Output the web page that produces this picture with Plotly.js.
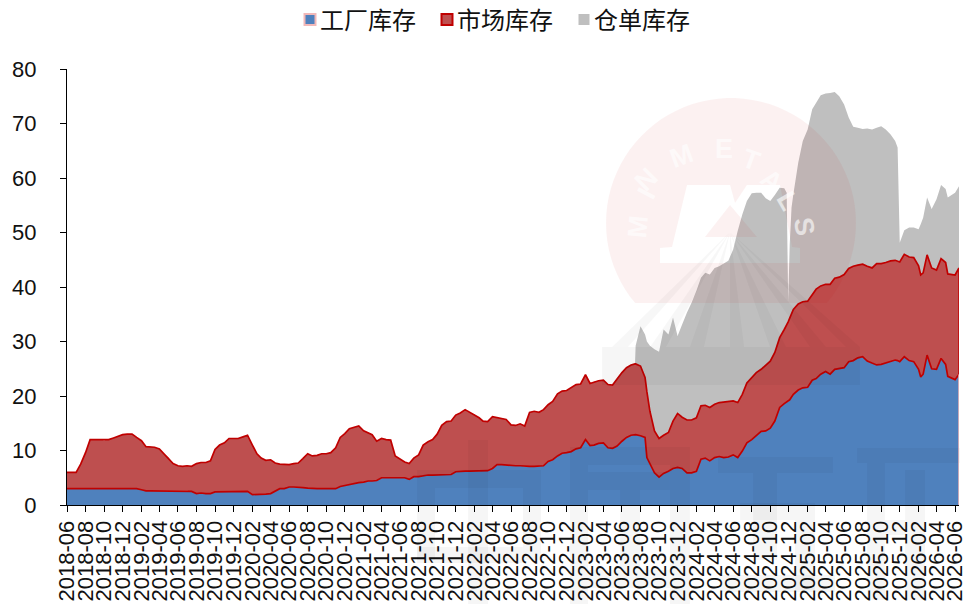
<!DOCTYPE html>
<html><head><meta charset="utf-8">
<script src="https://cdn.plot.ly/plotly-3.0.1.min.js"></script>
<style>html,body{margin:0;padding:0;background:#fff}#chart{width:966px;height:604px}</style>
</head><body><div id="chart"></div>
<script>
const dates = [
 "2018-06-01","2018-06-16","2018-07-01","2018-07-16","2018-08-01","2018-08-16","2018-09-01","2018-09-16","2018-10-01","2018-10-16","2018-11-01","2018-11-16","2018-12-01","2018-12-16",
 "2019-01-01","2019-01-16","2019-02-01","2019-02-16","2019-03-01","2019-03-16","2019-04-01","2019-04-16","2019-05-01","2019-05-16","2019-06-01","2019-06-16","2019-07-01","2019-07-16","2019-08-01","2019-08-16","2019-09-01","2019-09-16","2019-10-01","2019-10-16","2019-11-01","2019-11-16","2019-12-01","2019-12-16",
 "2020-01-01","2020-01-16","2020-02-01","2020-02-16","2020-03-01","2020-03-16","2020-04-01","2020-04-16","2020-05-01","2020-05-16","2020-06-01","2020-06-16","2020-07-01","2020-07-16","2020-08-01","2020-08-16","2020-09-01","2020-09-16","2020-10-01","2020-10-16","2020-11-01","2020-11-16","2020-12-01","2020-12-16",
 "2021-01-01","2021-01-16","2021-02-01","2021-02-16","2021-03-01","2021-03-16","2021-04-01","2021-04-16","2021-05-01","2021-05-16","2021-06-01","2021-06-16","2021-07-01","2021-07-16","2021-08-01","2021-08-16","2021-09-01","2021-09-16","2021-10-01","2021-10-16","2021-11-01","2021-11-16","2021-12-01","2021-12-16",
 "2022-01-01","2022-01-16","2022-02-01","2022-02-16","2022-03-01","2022-03-16","2022-04-01","2022-04-16","2022-05-01","2022-05-16","2022-06-01","2022-06-16","2022-07-01","2022-07-16","2022-08-01","2022-08-16","2022-09-01","2022-09-16","2022-10-01","2022-10-16","2022-11-01","2022-11-16","2022-12-01","2022-12-16",
 "2023-01-01","2023-01-16","2023-02-01","2023-02-16","2023-03-01","2023-03-16","2023-04-01","2023-04-16","2023-05-01","2023-05-16","2023-06-01","2023-06-16","2023-07-01","2023-07-14","2023-07-16","2023-08-01","2023-08-16","2023-08-22","2023-09-01","2023-09-16","2023-10-01","2023-10-16","2023-11-01","2023-11-16","2023-12-01","2023-12-16",
 "2024-01-01","2024-01-16","2024-02-01","2024-02-16","2024-03-01","2024-03-16","2024-04-01","2024-04-16","2024-05-01","2024-05-16","2024-06-01","2024-06-16","2024-07-01","2024-07-16","2024-08-01","2024-08-16","2024-09-01","2024-09-16","2024-10-01","2024-10-16","2024-11-01","2024-11-16","2024-11-24","2024-11-29","2024-12-04","2024-12-10","2024-12-16",
 "2025-01-01","2025-01-16","2025-02-01","2025-02-16","2025-03-01","2025-03-16","2025-04-01","2025-04-16","2025-05-01","2025-05-16","2025-06-01","2025-06-16","2025-07-01","2025-07-16","2025-08-01","2025-08-16","2025-09-01","2025-09-16","2025-10-01","2025-10-16","2025-11-01","2025-11-16","2025-11-24","2025-12-01","2025-12-16",
 "2026-01-01","2026-01-16","2026-02-01","2026-02-08","2026-02-16","2026-03-01","2026-03-16","2026-04-01","2026-04-16","2026-05-01","2026-05-08","2026-06-01","2026-06-14"];

const factoryStock = [
 3.0,3.0,3.0,3.0,3.0,3.0,3.0,3.0,3.0,3.0,3.0,3.0,3.0,3.0,
 3.0,3.0,2.8,2.6,2.6,2.6,2.6,2.6,2.6,2.6,2.6,2.6,2.6,2.5,2.1,2.2,2.1,2.1,2.4,2.4,2.4,2.4,2.4,2.4,
 2.4,2.5,1.9,1.9,2.0,2.0,2.1,2.6,3.0,3.0,3.3,3.3,3.3,3.2,3.1,3.0,3.0,3.0,3.0,3.0,3.0,3.4,3.6,3.7,
 4.0,4.1,4.2,4.4,4.4,4.5,5.0,5.0,5.0,5.0,5.0,5.0,4.7,5.2,5.2,5.4,5.5,5.5,5.5,5.5,5.6,5.6,6.1,6.2,
 6.2,6.2,6.2,6.2,6.3,6.3,6.7,7.4,7.4,7.3,7.3,7.2,7.2,7.1,7.1,7.1,7.1,7.2,8.0,8.3,9.0,9.5,9.6,9.8,
 10.3,10.5,12.0,10.9,11.0,11.3,11.4,10.5,10.4,10.8,11.7,12.4,12.8,12.9,12.9,12.7,12.4,8.7,7.5,5.9,5.1,5.8,6.2,6.7,6.9,6.7,
 5.9,5.9,6.2,8.4,8.6,8.1,8.7,8.9,8.7,8.8,9.2,8.7,9.9,11.4,12.0,12.7,13.5,13.6,14.1,15.4,17.9,18.6,18.9,19.0,19.3,19.8,20.3,
 21.1,21.5,21.6,22.9,23.2,24.0,24.5,24.0,24.9,25.1,25.2,26.3,26.5,27.0,27.2,26.4,26.1,25.7,25.8,26.1,26.3,26.6,26.5,26.3,27.2,
 26.5,26.3,24.9,23.5,24.0,27.5,25.0,24.9,26.9,25.8,23.6,23.0,24.0];

const marketStock = [
 3.0,3.0,3.0,4.5,6.6,9.0,9.0,9.0,8.9,9.0,9.3,9.6,9.9,10.0,
 10.0,9.4,9.0,8.1,8.1,8.0,7.7,6.8,6.1,5.0,4.6,4.5,4.6,4.6,5.5,5.6,5.7,6.0,7.8,8.6,9.0,9.8,9.8,9.8,
 10.1,10.3,9.1,7.5,6.6,6.2,6.2,5.1,4.5,4.4,4.1,4.3,4.4,5.3,6.3,6.0,6.1,6.4,6.4,6.6,7.5,9.0,9.5,10.3,
 10.2,10.4,9.4,8.9,8.5,7.2,7.2,7.0,6.9,4.0,3.5,2.9,2.9,3.4,4.0,5.6,6.1,6.5,7.5,9.1,9.7,9.8,10.4,10.7,
 11.3,10.8,10.4,9.8,9.1,9.0,9.5,8.6,8.5,8.4,7.4,7.4,7.7,7.4,9.9,10.1,9.9,10.3,10.4,10.7,11.4,11.4,11.4,11.7,
 11.8,11.7,11.9,11.4,11.6,11.5,11.5,11.6,11.6,12.4,12.6,12.8,12.9,13.0,13.0,12.8,11.0,12.1,9.7,7.7,7.1,7.0,7.1,8.7,9.9,9.4,
 9.7,9.7,9.8,9.8,9.7,9.8,9.8,9.9,10.2,10.2,9.9,10.1,10.4,11.0,11.4,11.6,11.4,12.1,12.3,12.6,12.8,13.6,14.1,14.6,15.0,15.2,15.6,
 15.8,15.8,15.8,15.8,16.4,16.2,16.0,16.5,16.7,16.7,17.1,17.1,17.3,17.0,17.0,17.4,17.4,18.6,18.5,18.4,18.5,18.3,18.2,18.3,18.8,
 19.0,19.1,19.0,18.7,18.6,18.4,18.5,18.2,18.3,18.7,18.8,19.2,19.5];

const warehouseStock = [
 0,0,0,0,0,0,0,0,0,0,0,0,0,0,
 0,0,0,0,0,0,0,0,0,0,0,0,0,0,0,0,0,0,0,0,0,0,0,0,
 0,0,0,0,0,0,0,0,0,0,0,0,0,0,0,0,0,0,0,0,0,0,0,0,
 0,0,0,0,0,0,0,0,0,0,0,0,0,0,0,0,0,0,0,0,0,0,0,0,
 0,0,0,0,0,0,0,0,0,0,0,0,0,0,0,0,0,0,0,0,0,0,0,0,
 0,0,0,0,0,0,0,0,0,0,0,0,0,0,3.3,7.3,7.9,9.2,12.0,15.0,15.9,19.4,18.0,19.0,14.2,17.0,
 19.7,21.5,23.3,23.5,24.3,24.4,25.0,25.0,25.4,25.8,27.8,31.5,33.0,33.4,33.8,33.0,32.4,30.6,29.4,28.9,27.5,25.9,24.3,3.8,13.5,19.6,21.1,
 25.9,29.5,31.5,33.9,34.2,35.0,35.0,35.1,34.2,33.2,31.2,27.7,25.6,25.2,24.8,25.3,25.4,24.9,25.2,24.4,23.2,21.9,20.9,3.5,4.4,
 5.4,5.5,6.7,9.3,10.1,10.5,10.8,13.0,13.5,13.5,14.0,15.1,15.0];

const seriesNames = ["工厂库存","市场库存","仓单库存"];
const yTicks = [0,10,20,30,40,50,60,70,80];
const watermarkLetters = ["M","I","N","M","E","T","A","L","S"];

const C = {blue:"#4F81BD", red:"#BE4F4F", dark:"#C00000", grey:"#BFBFBF", pink:"#F2B8B8", ink:"#111111"};
const PL=67, PR=959, PT=69, PB=505;
const fx=x=>(x-PL)/(PR-PL), fy=y=>(PB-y)/(PB-PT);
const poly=pts=>"M"+pts.map(p=>fx(p[0]).toFixed(4)+","+fy(p[1]).toFixed(4)).join("L")+"Z";
const wmShape=(path,color,op)=>({type:"path",xref:"paper",yref:"paper",layer:"above",path,fillcolor:color,opacity:op,line:{width:0},fillrule:"evenodd"});
const wmRect=(x0,y0,x1,y1)=>wmShape(poly([[x0,y0],[x1,y0],[x1,y1],[x0,y1]]),"#000000",0.035);

// watermark: emblem circle with the M block cut out of it
const circ=[];
for(let a=0;a<360;a+=4){const px=731+125*Math.cos(a*Math.PI/180),py=223+125*Math.sin(a*Math.PI/180);
  circ.push([px,Math.min(py,303)]);}
const logo=[[660,263],[660,248],[672,247],[687,185],[730,185],[735,203],[747,185],[780,185],[792,247],[800,248],[800,263]];
const hole=[[705,237],[730,205],[757,237]];
const emblem=poly(circ)+poly(logo)+poly(hole);
const shapes=[wmShape(emblem,"#C00000",0.055)];
// fan of rays beneath the emblem
const fanX=[612,628,650,666,690,704,730,744,770,786,810,826,846,860];
for(let i=0;i<fanX.length;i+=2) shapes.push(wmShape(poly([[730,232],[fanX[i],347],[fanX[i+1],347]]),"#000000",0.03));
shapes.push(wmRect(602,347,860,385));
// large characters near the bottom
[[417,470,541,488],[417,488,435,560],[523,488,541,560],[417,547,523,563],[468,440,488,604],
 [570,447,690,465],[570,465,588,604],[670,465,690,604],[588,472,670,490],[620,490,640,570],[588,570,670,588],
 [718,457,833,473],[753,473,777,560],[740,503,815,520],[795,520,815,590],[720,575,835,592],
 [857,448,960,463],[867,463,885,600],[905,470,925,600],[885,520,905,535]
].forEach(r=>shapes.push(wmRect(...r)));
// right-hand closing edges of the two stacked areas
const last=dates.length-1, end=dates[last];
shapes.push({type:"line",xref:"x",yref:"y",x0:end,x1:end,y0:0,y1:factoryStock[last],line:{color:C.pink,width:1.5}});
shapes.push({type:"line",xref:"x",yref:"y",x0:end,x1:end,y0:factoryStock[last],y1:factoryStock[last]+marketStock[last],line:{color:C.dark,width:1.5}});

const letterPos=[[638,212,-85],[647,180,-62],[667,158,-45],[700,135,-20],[735,132,0],[767,140,20],[792,160,38],[808,183,60],[823,213,80]];
const annotations=watermarkLetters.map((t,i)=>({text:t,xref:"paper",yref:"paper",x:fx(letterPos[i][0]),y:fy(letterPos[i][1]),
  textangle:letterPos[i][2],showarrow:false,opacity:0.6,font:{family:"Liberation Sans",size:27,color:"#ffffff",weight:700}}));

const area=(name,y,fill)=>({type:"scatter",mode:"none",name,x:dates,y,stackgroup:"s",legendgroup:name,showlegend:false,fillcolor:fill});
const edge=(name,y)=>({type:"scatter",mode:"lines",name,x:dates,y,legendgroup:name,showlegend:false,hoverinfo:"skip",line:{color:C.dark,width:1.7}});
const key=(name,fill,line,w,size)=>({type:"scatter",mode:"markers",name,x:[dates[0]],y:[null],legendgroup:name,
  marker:{symbol:"square",size,color:fill,line:{color:line,width:w}}});

const traces=[
  area(seriesNames[0],factoryStock,C.blue),
  area(seriesNames[1],marketStock,C.red),
  area(seriesNames[2],warehouseStock,C.grey),
  edge(seriesNames[1],factoryStock.map((v,i)=>v+marketStock[i])),
  edge(seriesNames[0],factoryStock),
  key(seriesNames[0],C.blue,C.pink,2,11),
  key(seriesNames[1],C.red,C.dark,2,11),
  key(seriesNames[2],C.grey,C.grey,0,11),
];

const layout={
  width:966,height:604,paper_bgcolor:"#fff",plot_bgcolor:"#fff",
  margin:{l:PL,r:966-PR,t:PT,b:604-PB,pad:0},
  font:{family:"Liberation Sans, Arial, sans-serif",color:C.ink},
  showlegend:true,
  legend:{orientation:"h",xref:"container",yref:"container",x:295/966,xanchor:"left",y:1-20/604,yanchor:"middle",
    font:{family:"Noto Sans CJK SC",size:24,color:"#111"},indentation:-15,entrywidth:107,entrywidthmode:"pixels",bgcolor:"rgba(0,0,0,0)",traceorder:"normal"},
  xaxis:{type:"date",range:["2018-06-01",end],dtick:"M2",tick0:"2018-06-01",tickformat:"%Y-%m",tickangle:-90,ticklabeloverflow:"allow",
    ticks:"outside",ticklen:6,tickwidth:1,tickcolor:"#000",showline:true,linecolor:"#000",linewidth:1,showgrid:false,zeroline:false,
    tickfont:{size:22,color:C.ink},automargin:false},
  yaxis:{range:[0,80],tickmode:"array",tickvals:yTicks,ticks:"outside",ticklen:6,tickwidth:1,tickcolor:"#000",ticklabelstandoff:19,
    showline:true,linecolor:"#000",linewidth:1,showgrid:false,zeroline:false,tickfont:{size:22,color:C.ink},automargin:false},
  shapes,annotations
};
Plotly.newPlot("chart",traces,layout,{displayModeBar:false,responsive:false,staticPlot:true}).then(()=>{
  // nudge the legend swatches next to their labels
  document.querySelectorAll("#chart .legend .legendsymbols").forEach(n=>n.setAttribute("transform","translate(10,0)"));
});
</script></body></html>
